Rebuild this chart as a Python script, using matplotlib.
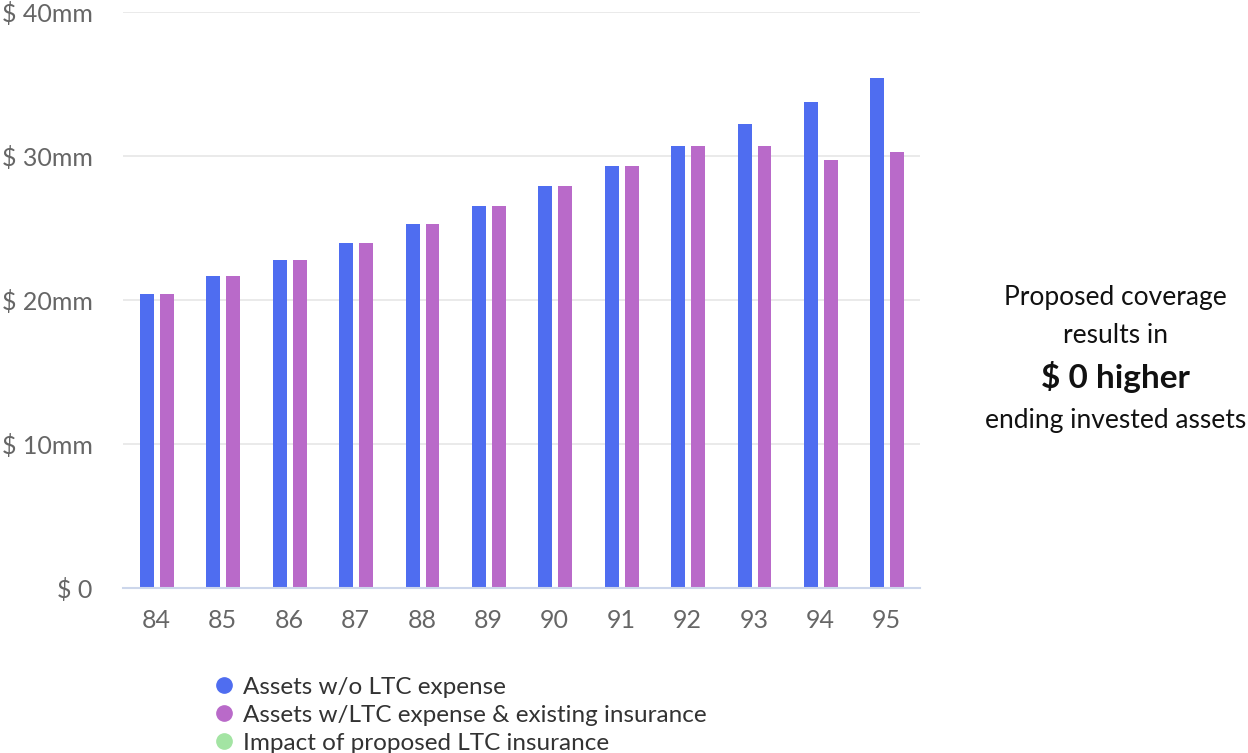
import matplotlib
matplotlib.use('Agg')
from matplotlib import pyplot as plt
from matplotlib.lines import Line2D

plt.rcParams['font.family'] = ['Lato', 'DejaVu Sans']

ages = ['84', '85', '86', '87', '88', '89', '90', '91', '92', '93', '94', '95']
assets_no_ltc = [20.42, 21.67, 22.78, 23.96, 25.28, 26.53, 27.92, 29.31, 30.69, 32.22, 33.75, 35.42]
assets_existing = [20.42, 21.67, 22.78, 23.96, 25.28, 26.53, 27.92, 29.31, 30.69, 30.69, 29.72, 30.28]
series_names = ['Assets w/o LTC expense',
                'Assets w/LTC expense & existing insurance',
                'Impact of proposed LTC insurance']
y_ticks = [0, 10, 20, 30, 40]
y_labels = ['$ 0', '$ 10mm', '$ 20mm', '$ 30mm', '$ 40mm']

BLUE = '#4f6df0'
PURPLE = '#b96ac9'
GREEN = '#a3e4a3'


def graphing():
    fig = plt.figure(figsize=(12.48, 7.53), dpi=100)
    ax = fig.add_axes([0.0986, 0.219, 0.6385, 0.765])

    x = list(range(len(ages)))
    w = 0.21
    ax.bar([i - 0.14 for i in x], assets_no_ltc, width=w, color=BLUE, zorder=3)
    ax.bar([i + 0.16 for i in x], assets_existing, width=w, color=PURPLE, zorder=3)

    ax.set_xlim(-0.5, len(ages) - 0.5)
    ax.set_ylim(0, 40)
    ax.set_xticks(x)
    ax.set_xticklabels(ages)
    ax.set_yticks(y_ticks)
    ax.set_yticklabels(y_labels)
    ax.tick_params(axis='both', length=0, labelsize=18, colors='#666666')
    ax.tick_params(axis='x', pad=15)
    ax.tick_params(axis='y', pad=22)
    for lab in ax.get_yticklabels():
        lab.set_horizontalalignment('right')

    ax.grid(axis='y', color='#e6e6e6', linewidth=1.2, zorder=0)
    for side in ['top', 'right', 'left']:
        ax.spines[side].set_visible(False)
    ax.spines['bottom'].set_color('#ccd6eb')
    ax.spines['bottom'].set_linewidth(1.5)
    ax.spines['bottom'].set_zorder(4)

    handles = [Line2D([], [], marker='o', linestyle='', markersize=11, color=c)
               for c in [BLUE, PURPLE, GREEN]]
    fig.legend(handles, series_names, loc='upper left', bbox_to_anchor=(0.162, 0.114),
               frameon=False, fontsize=17.5, handletextpad=0.3, labelspacing=0.28,
               borderaxespad=0, handlelength=1.0, labelcolor='#333333')

    fig.text(0.894, 0.605, 'Proposed coverage', ha='center', va='center', fontsize=19, color='#111111')
    fig.text(0.894, 0.555, 'results in', ha='center', va='center', fontsize=19, color='#111111')
    fig.text(0.894, 0.499, '$ 0 higher', ha='center', va='center', fontsize=24,
             fontweight='bold', color='#111111')
    fig.text(0.894, 0.442, 'ending invested assets', ha='center', va='center', fontsize=19, color='#111111')

    fig.savefig('out.png', dpi=100)


if __name__ == "__main__":
    graphing()
